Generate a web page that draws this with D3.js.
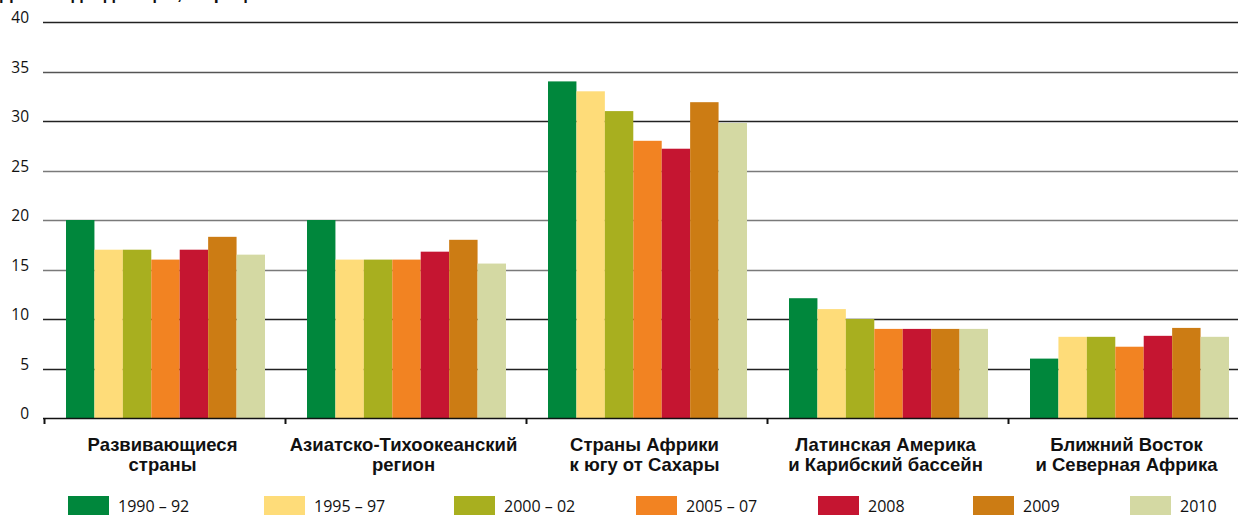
<!DOCTYPE html>
<html><head><meta charset="utf-8">
<script src="https://cdn.jsdelivr.net/npm/d3@7"></script>
<style>
html,body{margin:0;padding:0;background:#fff;overflow:hidden}
svg{display:block}
</style></head>
<body>
<svg id="chart" width="1238" height="515"></svg>
<script>
const title = "Доля недоедающих, в процентах";
const categories = [
  ["Развивающиеся", "страны"],
  ["Азиатско-Тихоокеанский", "регион"],
  ["Страны Африки", "к югу от Сахары"],
  ["Латинская Америка", "и Карибский бассейн"],
  ["Ближний Восток", "и Северная Африка"]
];
const seriesNames = ["1990 – 92", "1995 – 97", "2000 – 02", "2005 – 07", "2008", "2009", "2010"];
const s1990_92 = [20, 20, 34, 12.1, 6];
const s1995_97 = [17, 16, 33, 11, 8.2];
const s2000_02 = [17, 16, 31, 10, 8.2];
const s2005_07 = [16, 16, 28, 9, 7.2];
const s2008    = [17, 16.8, 27.2, 9, 8.3];
const s2009    = [18.3, 18, 31.9, 9, 9.1];
const s2010    = [16.5, 15.6, 29.8, 9, 8.2];
const yTicks = [0, 5, 10, 15, 20, 25, 30, 35, 40];

const seriesValues = [s1990_92, s1995_97, s2000_02, s2005_07, s2008, s2009, s2010];
const colors = ["#00873c", "#fedc79", "#a8af1f", "#f28322", "#c51531", "#cc7c14", "#d4d9a3"];
const gridColors = {0:"#111",5:"#222",10:"#222",15:"#7a7a7a",20:"#7a7a7a",25:"#7a7a7a",30:"#222",35:"#555",40:"#222"};
const legendX = [68, 264, 454, 636, 818, 973, 1130];

const svg = d3.select("#chart");
const catKeys = categories.map(c => c.join(" "));
const x0 = d3.scaleBand().domain(catKeys).range([44, 44 + 241 * 5]).paddingInner(0).paddingOuter(0);
const x1 = d3.scaleBand().domain(seriesNames).range([22, 22 + 199]).padding(0);
const y = d3.scaleLinear().domain([0, 40]).range([418, 22]);

// title (mostly above the visible frame, as in the reference)
svg.append("text").attr("x", 0).attr("y", -1)
  .attr("font-family", "Liberation Sans Narrow, Liberation Sans, sans-serif")
  .attr("font-weight", "bold").attr("font-size", 18).attr("fill", "#111").text(title);

// gridlines
svg.append("g").selectAll("line").data(yTicks.filter(d => d > 0)).join("line")
  .attr("x1", 43).attr("x2", 1238)
  .attr("y1", d => Math.round(y(d)) + 0.5).attr("y2", d => Math.round(y(d)) + 0.5)
  .attr("stroke", d => gridColors[d]).attr("stroke-width", 1.4);

// y labels
svg.append("g").selectAll("text").data(yTicks).join("text")
  .attr("x", 29).attr("y", d => y(d) + 1)
  .attr("text-anchor", "end")
  .attr("font-family", "Open Sans, Noto Sans, sans-serif")
  .attr("font-size", 15.5).attr("fill", "#111").text(d => d);

// bars
const groups = svg.append("g").selectAll("g").data(catKeys).join("g")
  .attr("transform", d => `translate(${x0(d)},0)`);
groups.selectAll("rect").data((d, i) => seriesNames.map((s, j) => ({s, v: seriesValues[j][i], j})))
  .join("rect")
  .attr("x", d => x1(d.s)).attr("width", x1.bandwidth())
  .attr("y", d => y(d.v)).attr("height", d => y(0) - y(d.v))
  .attr("fill", d => colors[d.j]);

// x axis
const xAxis = svg.append("g");
xAxis.append("line").attr("x1", 43).attr("x2", 1238).attr("y1", 418.5).attr("y2", 418.5)
  .attr("stroke", "#111").attr("stroke-width", 1.5);
xAxis.selectAll("line.tick").data(catKeys).join("line").attr("class", "tick")
  .attr("x1", d => x0(d) + 0.5).attr("x2", d => x0(d) + 0.5)
  .attr("y1", 418).attr("y2", 424).attr("stroke", "#111").attr("stroke-width", 2);

// category labels
const lab = svg.append("g").selectAll("text").data(categories).join("text")
  .attr("text-anchor", "middle")
  .attr("font-family", "Liberation Sans Narrow, Liberation Sans, sans-serif")
  .attr("font-weight", "bold").attr("font-size", 18.5).attr("fill", "#111")
  .attr("transform", (d, i) => `translate(${x0(catKeys[i]) + x0.bandwidth() / 2 - 2},0)`);
lab.selectAll("tspan").data(d => d).join("tspan")
  .attr("x", 0).attr("y", (d, i) => 451 + i * 20).text(d => d);

// legend
const leg = svg.append("g").selectAll("g").data(seriesNames).join("g")
  .attr("transform", (d, i) => `translate(${legendX[i]},496)`);
leg.append("rect").attr("width", 41).attr("height", 19).attr("fill", (d, i) => colors[i]);
leg.append("text").attr("x", 50).attr("y", 16)
  .attr("font-family", "Open Sans, Noto Sans, sans-serif")
  .attr("font-size", 16).attr("fill", "#111").text(d => d);
</script>
</body></html>
